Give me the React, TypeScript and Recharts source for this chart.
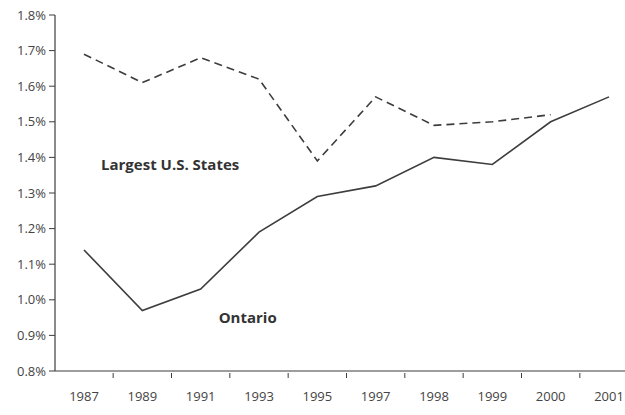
import React from 'react';
import { LineChart, Line, XAxis, YAxis, ReferenceDot } from 'recharts';

// values (share, in %)
const years = ['1987', '1989', '1991', '1993', '1995', '1997', '1998', '1999', '2000', '2001'];
const ontario = [1.14, 0.97, 1.03, 1.19, 1.29, 1.32, 1.4, 1.38, 1.5, 1.57];
const usStates = [1.69, 1.61, 1.68, 1.62, 1.39, 1.57, 1.49, 1.5, 1.52, null];
const yTicks = [0.8, 0.9, 1.0, 1.1, 1.2, 1.3, 1.4, 1.5, 1.6, 1.7, 1.8];

const data = years.map((year, i) => ({ year, ontario: ontario[i], us: usStates[i] }));

const INK = '#3d3d3d';
const FONT = '"Open Sans", "DejaVu Sans", sans-serif';

const CHART_W = 640;
const Y_AXIS_W = 55;
const MARGIN_R = 2;
const PAD = 29;
const STEP = (CHART_W - Y_AXIS_W - MARGIN_R - 2 * PAD) / (years.length - 1);

const YearTick = (props: any) => {
  const { x, y, payload, index } = props;
  return (
    <g>
      {index < years.length - 1 && (
        <line x1={x + STEP / 2} y1={y} x2={x + STEP / 2} y2={y + 5} stroke={INK} strokeWidth={1} />
      )}
      <text x={x} y={y + 28} textAnchor="middle" fill="#444" fontSize={13} fontFamily={FONT}>
        {payload.value}
      </text>
    </g>
  );
};

export default function App() {
  return (
    <div style={{ position: 'absolute', left: 0, top: 0, width: 625, height: 415, overflow: 'hidden', background: '#fff' }}>
      <LineChart width={CHART_W} height={415} data={data} margin={{ top: 15, right: MARGIN_R, bottom: 0, left: 0 }}>
        <XAxis
          dataKey="year"
          height={44}
          padding={{ left: PAD, right: PAD }}
          axisLine={{ stroke: INK, strokeWidth: 1.2 }}
          tickLine={false}
          tickSize={0}
          interval={0}
          tick={<YearTick />}
        />
        <YAxis
          width={Y_AXIS_W}
          domain={[0.8, 1.8]}
          ticks={yTicks}
          interval={0}
          tickFormatter={(v: number) => `${v.toFixed(1)}%`}
          axisLine={{ stroke: INK, strokeWidth: 1.2 }}
          tickLine={{ stroke: INK }}
          tickSize={6}
          tickMargin={3}
          tick={{ fill: '#444', fontSize: 13, fontFamily: FONT }}
        />
        <Line
          type="linear"
          dataKey="us"
          stroke={INK}
          strokeWidth={1.6}
          strokeDasharray="8 5"
          dot={false}
          connectNulls={false}
          isAnimationActive={false}
        />
        <Line
          type="linear"
          dataKey="ontario"
          stroke={INK}
          strokeWidth={1.6}
          dot={false}
          isAnimationActive={false}
        />
        <ReferenceDot
          x="1987"
          y={1.38}
          r={0}
          fill="none"
          stroke="none"
          label={{ value: 'Largest U.S. States', position: 'right', offset: 17, fill: '#333', fontSize: 15, fontWeight: 700, fontFamily: FONT }}
        />
        <ReferenceDot
          x="1991"
          y={0.95}
          r={0}
          fill="none"
          stroke="none"
          label={{ value: 'Ontario', position: 'right', offset: 18, fill: '#333', fontSize: 15, fontWeight: 700, fontFamily: FONT }}
        />
      </LineChart>
    </div>
  );
}
